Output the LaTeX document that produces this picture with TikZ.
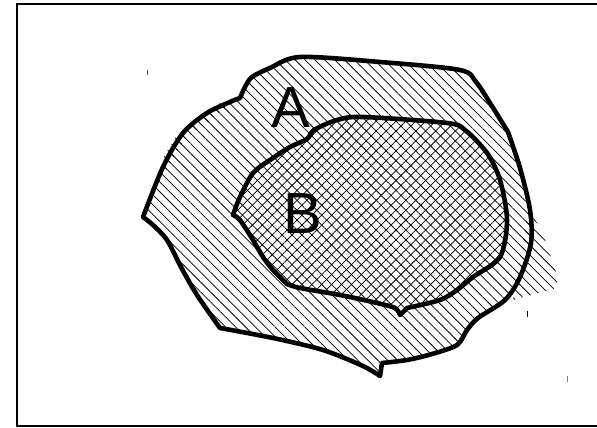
\documentclass[tikz,border=0pt]{standalone}
\usepackage{fontspec}
\setmainfont{Liberation Sans}
\usetikzlibrary{patterns.meta}
\begin{document}
\begin{tikzpicture}[x=1pt,y=-1pt,
  outline/.style={line width=4.6pt,line join=round},
  hatchA/.style={pattern={Lines[angle=-45,distance=7pt,line width=0.75pt]}},
  hatchB/.style={pattern={Lines[angle=45,distance=7pt,line width=0.75pt]}},
  lab/.style={font=\fontsize{58}{60}\selectfont, inner sep=0pt, anchor=base},
  tick/.style={line width=0.9pt}]
\useasboundingbox (0,0) rectangle (597,428);
% frame
\draw[line width=2pt] (599,4.5) -- (17,4.5) -- (17,426) -- (599,426);
% outlines as macros
\def\pathA{plot[smooth] coordinates {(143,217) (163,167) (183,133) (207,113) (230,102) (240,98)}
  -- plot[smooth] coordinates {(240,98) (245,87) (252,77) (270,68) (300,57) (380,62) (460,70) (476,82) (490,103) (508,132)}
  -- plot[smooth] coordinates {(508,132) (520,168) (530,210) (531,243) (520,277) (505,300) (478,318) (467,330) (457,345) (432,354) (407,360) (382,363)}
  -- (380,376)
  -- plot[smooth] coordinates {(380,376) (363,366) (323,350) (273,338) (220,328)}
  -- plot[smooth] coordinates {(220,328) (197,295) (181,267) (167,240) (153,225) (143,217)} -- cycle}
\def\pathB{plot[smooth] coordinates {(233,215) (240,197) (253,173) (270,160) (290,147) (307,139) (314,130) (337,120) (363,117) (447,123) (465,130) (487,153) (500,180) (507,220) (500,257) (473,277) (457,290) (440,300) (407,308)}
  -- (400,315)
  -- plot[smooth] coordinates {(400,315) (395,308) (377,303) (340,295) (300,288) (287,284)}
  -- plot[smooth] coordinates {(287,284) (273,270) (263,257) (253,240) (240,220) (233,215)} -- cycle}
% hatching of A (with its overshoot)
\path[hatchA] \pathA;
\path[hatchA] (529,205) -- (545,240) -- (557,275) -- (557,288) -- (513,300) -- cycle;
\path[hatchA] (163,158) -- (177,135) -- (202,113) -- (222,102) -- (230,104) -- (185,140) -- (166,170) -- cycle;
% crosshatch of B
\fill[white] \pathB;
\path[hatchA] \pathB;
\path[hatchB] \pathB;
% outlines
\draw[outline] \pathA;
\draw[outline] \pathB;
% labels
\node[lab] (A) at (291,127) {A};
\node[lab] (B) at (303,233) {B};
% stray marks
\draw[tick,black!70] (147,70) -- (147,75);
\draw[tick] (527,311) -- (527,317);
\draw[tick,black!50] (567,376) -- (567,382);
\end{tikzpicture}
\end{document}
